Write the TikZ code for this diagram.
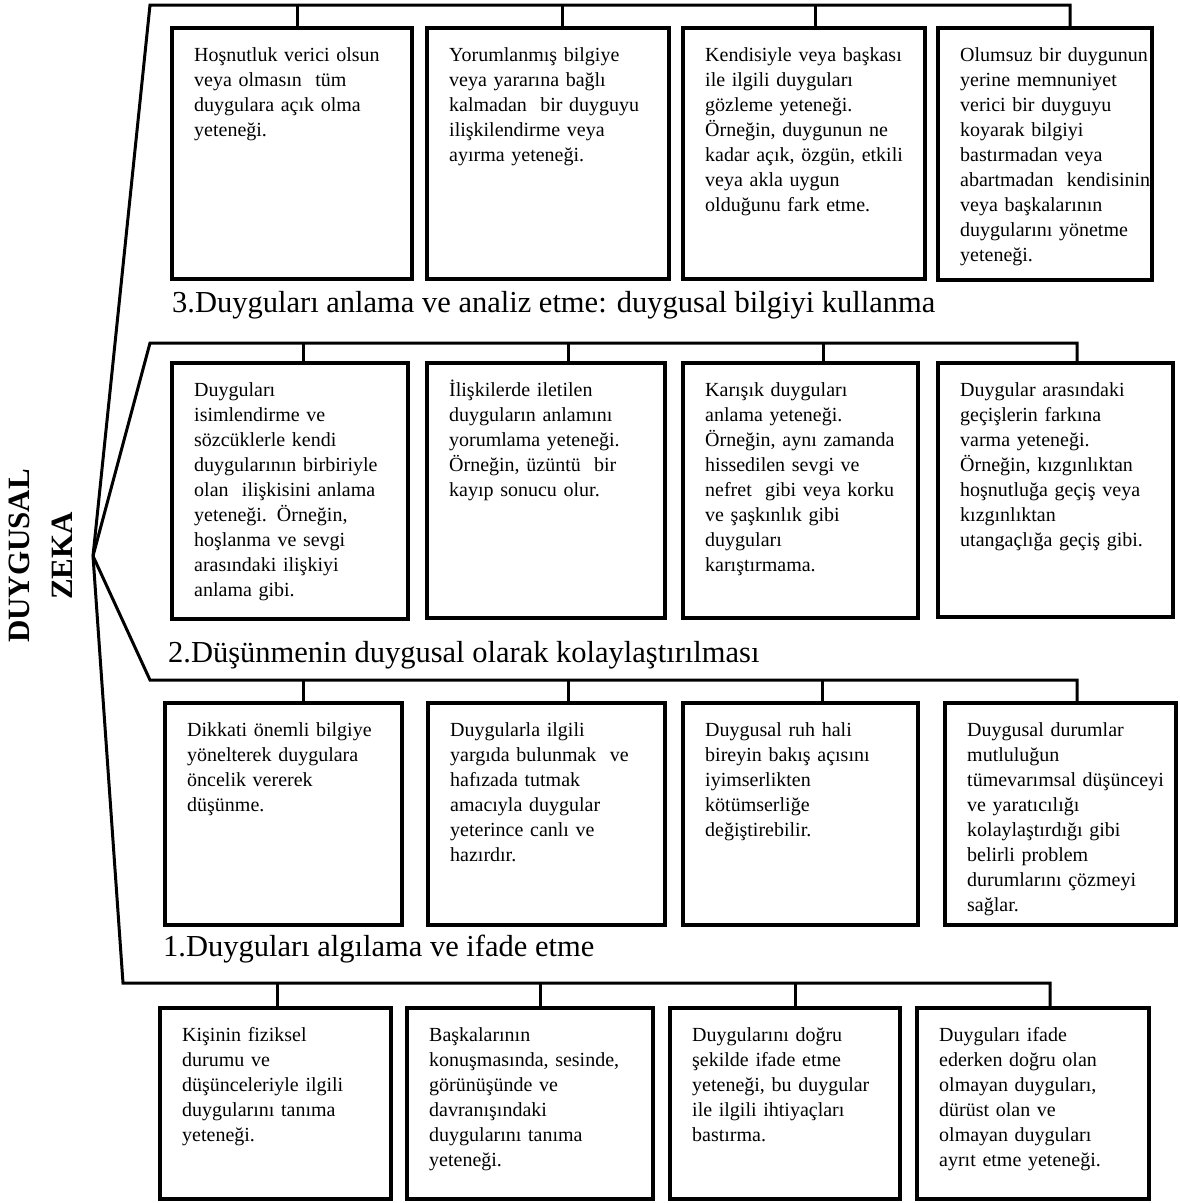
\documentclass[tikz,border=0pt]{standalone}
\usepackage{fontspec}
\setmainfont{Liberation Serif}
\tikzset{
  box/.style={draw, line width=3.5pt, inner sep=0pt, outer sep=0pt, anchor=north west},
  txt/.style={inner sep=0pt, anchor=north west, align=left, text width=260pt, font=\fontsize{20}{25}\selectfont},
  ln/.style={line width=3pt, line join=miter},
  head/.style={inner sep=0pt, anchor=base west, font=\fontsize{30.5}{36}\selectfont},
  title/.style={rotate=90, align=center, inner sep=0pt, font=\bfseries\fontsize{31}{43}\selectfont}
}
\newcommand\mybox[6]{%
  \node[box, minimum width={(#4-#2)*1pt}, minimum height={(#5-#3)*1pt}] (#1) at (#2,#3) {};
  \node[txt] (#1t) at ([xshift=22pt,yshift=-15pt]#1.north west) {\rule{0pt}{18pt}#6};
}
\begin{document}
\begin{tikzpicture}[x=1pt,y=-1pt]
\useasboundingbox (0,0) rectangle (1179,1203);

% ---------- Row 3 ----------
\mybox{b31}{172}{28}{412}{279}{Hoşnutluk verici olsun\\veya olmasın\ \ tüm\\duygulara açık olma\\yeteneği.}
\mybox{b32}{427}{28}{669}{279}{Yorumlanmış bilgiye\\veya yararına bağlı\\kalmadan\ \ bir duyguyu\\ilişkilendirme veya\\ayırma yeteneği.}
\mybox{b33}{683}{28}{925}{279}{Kendisiyle veya başkası\\ile ilgili duyguları\\gözleme yeteneği.\\Örneğin, duygunun ne\\kadar açık, özgün, etkili\\veya akla uygun\\olduğunu fark etme.}
\mybox{b34}{938}{28}{1152}{280}{Olumsuz bir duygunun\\yerine memnuniyet\\verici bir duyguyu\\koyarak bilgiyi\\bastırmadan veya\\abartmadan\ \ kendisinin\\veya başkalarının\\duygularını yönetme\\yeteneği.}
\node[head] (h3) at (172,312) {3.Duyguları anlama ve analiz etme: duygusal bilgiyi kullanma};

% ---------- Row 2 ----------
\mybox{b21}{172}{363}{408}{619}{Duyguları\\isimlendirme ve\\sözcüklerle kendi\\duygularının birbiriyle\\olan\ \ ilişkisini anlama\\yeteneği. Örneğin,\\hoşlanma ve sevgi\\arasındaki ilişkiyi\\anlama gibi.}
\mybox{b22}{427}{363}{665}{618}{İlişkilerde iletilen\\duyguların anlamını\\yorumlama yeteneği.\\Örneğin, üzüntü\ \ bir\\kayıp sonucu olur.}
\mybox{b23}{683}{363}{918}{618}{Karışık duyguları\\anlama yeteneği.\\Örneğin, aynı zamanda\\hissedilen sevgi ve\\nefret\ \ gibi veya korku\\ve şaşkınlık gibi\\duyguları\\karıştırmama.}
\mybox{b24}{938}{363}{1173}{617}{Duygular arasındaki\\geçişlerin farkına\\varma yeteneği.\\Örneğin, kızgınlıktan\\hoşnutluğa geçiş veya\\kızgınlıktan\\utangaçlığa geçiş gibi.}
\node[head] (h2) at (168,662) {2.Düşünmenin duygusal olarak kolaylaştırılması};

% ---------- Row 1 ----------
\mybox{b11}{165}{703}{402}{925}{Dikkati önemli bilgiye\\yönelterek duygulara\\öncelik vererek\\düşünme.}
\mybox{b12}{428}{703}{665}{925}{Duygularla ilgili\\yargıda bulunmak\ \ ve\\hafızada tutmak\\amacıyla duygular\\yeterince canlı ve\\hazırdır.}
\mybox{b13}{683}{703}{918}{925}{Duygusal ruh hali\\bireyin bakış açısını\\iyimserlikten\\kötümserliğe\\değiştirebilir.}
\mybox{b14}{945}{703}{1176}{925}{Duygusal durumlar\\mutluluğun\\tümevarımsal düşünceyi\\ve yaratıcılığı\\kolaylaştırdığı gibi\\belirli problem\\durumlarını çözmeyi\\sağlar.}
\node[head] (h1) at (163,956) {1.Duyguları algılama ve ifade etme};

% ---------- Row 0 ----------
\mybox{b01}{160}{1008}{391}{1199}{Kişinin fiziksel\\durumu ve\\düşünceleriyle ilgili\\duygularını tanıma\\yeteneği.}
\mybox{b02}{407}{1008}{653}{1199}{Başkalarının\\konuşmasında, sesinde,\\görünüşünde ve\\davranışındaki\\duygularını tanıma\\yeteneği.}
\mybox{b03}{670}{1008}{900}{1199}{Duygularını doğru\\şekilde ifade etme\\yeteneği, bu duygular\\ile ilgili ihtiyaçları\\bastırma.}
\mybox{b04}{917}{1008}{1149}{1199}{Duyguları ifade\\ederken doğru olan\\olmayan duyguları,\\dürüst olan ve\\olmayan duyguları\\ayrıt etme yeteneği.}

% ---------- Title ----------
\node[title] (dz) at (41,556) {DUYGUSAL\\ZEKA};

% ---------- Connectors ----------
\coordinate (A) at (93,556);
% row 3
\coordinate (c3) at (150,5);
\coordinate (d31) at (297,5);
\coordinate (d32) at (562,5);
\coordinate (d33) at (815,5);
\coordinate (d34) at (1070,5);
\draw[ln] (A) -- (c3) -- (d34) -- (d34 |- b34.north);
\draw[ln] (d31) -- (d31 |- b31.north);
\draw[ln] (d32) -- (d32 |- b32.north);
\draw[ln] (d33) -- (d33 |- b33.north);
% row 2
\coordinate (c2) at (150,343);
\coordinate (d21) at (303,343);
\coordinate (d22) at (568,343);
\coordinate (d23) at (823,343);
\coordinate (d24) at (1077,343);
\draw[ln] (A) -- (c2) -- (d24) -- (d24 |- b24.north);
\draw[ln] (d21) -- (d21 |- b21.north);
\draw[ln] (d22) -- (d22 |- b22.north);
\draw[ln] (d23) -- (d23 |- b23.north);
% row 1
\coordinate (c1) at (150,680);
\coordinate (d11) at (303,680);
\coordinate (d12) at (568,680);
\coordinate (d13) at (822,680);
\coordinate (d14) at (1077,680);
\draw[ln] (A) -- (c1) -- (d14) -- (d14 |- b14.north);
\draw[ln] (d11) -- (d11 |- b11.north);
\draw[ln] (d12) -- (d12 |- b12.north);
\draw[ln] (d13) -- (d13 |- b13.north);
% row 0
\coordinate (c0) at (123,983);
\coordinate (d01) at (277,983);
\coordinate (d02) at (540,983);
\coordinate (d03) at (795,983);
\coordinate (d04) at (1050,983);
\draw[ln] (A) -- (c0) -- (d04) -- (d04 |- b04.north);
\draw[ln] (d01) -- (d01 |- b01.north);
\draw[ln] (d02) -- (d02 |- b02.north);
\draw[ln] (d03) -- (d03 |- b03.north);
\end{tikzpicture}
\end{document}
